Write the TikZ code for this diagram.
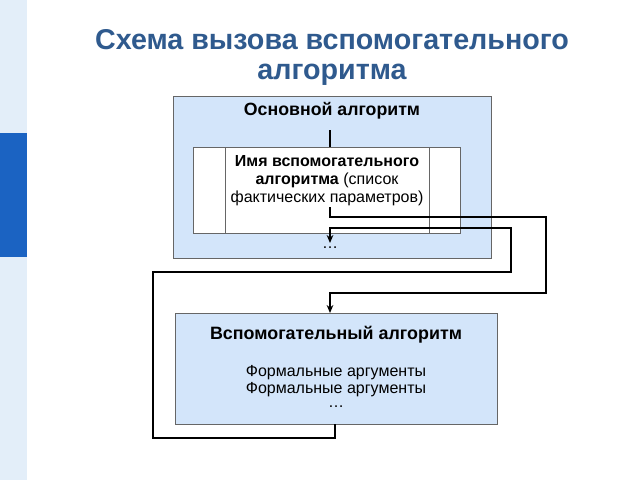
\documentclass[tikz,border=0pt]{standalone}
\usepackage{fontspec}
\setmainfont{Liberation Sans}
\usetikzlibrary{arrows.meta}
\definecolor{boxfill}{HTML}{D3E5FA}
\definecolor{titleblue}{HTML}{2F5A8E}
\definecolor{barlight}{HTML}{E3EEF9}
\definecolor{bardark}{HTML}{1B63C2}
\begin{document}
\begin{tikzpicture}[x=0.75pt,y=-0.75pt,
  box/.style={draw=gray!80!black,fill=boxfill,line width=0.6pt},
  conn/.style={line width=1.4pt},
  arr/.style={conn,-{Stealth[length=6pt,width=5pt]}},
  txt/.style={inner sep=0,font=\fontsize{12}{13.5}\selectfont,align=center}]
\useasboundingbox (0,0) rectangle (640,480);
\fill[white] (0,0) rectangle (640,480);
\fill[barlight] (0,0) rectangle (27,480);
\fill[bardark] (0,133) rectangle (27,257);
\node[inner sep=0,text=titleblue,font=\fontsize{21.5}{22.5}\selectfont\bfseries,align=center] (title) at (332,57) {Схема вызова вспомогательного\\алгоритма};
\node[box,minimum width=238.5pt,minimum height=121.5pt,anchor=north west] (main) at (173,96) {};
\node[txt,font=\fontsize{13.3}{14}\selectfont\bfseries] (mainlbl) at (332,111) {Основной алгоритм};
\node[draw=gray!80!black,fill=white,line width=0.6pt,minimum width=200pt,minimum height=64.5pt,anchor=north west] (call) at (193,147) {};
\draw[gray!80!black,line width=0.6pt] (225,147) -- (225,233) (429,147) -- (429,233);
\node[txt] (calltxt) at (327,181) {\textbf{Имя вспомогательного}\\\textbf{алгоритма} (список\\фактических параметров)};
\coordinate (t1) at (330,130);
\draw[conn] (t1) -- (330,147);
\coordinate (s1) at (330,207);
\node[box,minimum width=241.5pt,minimum height=83pt,anchor=north west] (sub) at (175,313) {};
\node[txt,font=\fontsize{13.4}{14}\selectfont\bfseries] (sublbl) at (336,335) {Вспомогательный алгоритм};
\node[txt,font=\fontsize{12}{13}\selectfont] (args) at (336,381) {Формальные аргументы\\Формальные аргументы};
\node[txt] (dots2) at (336,407) {\dots};
\node[txt] (dots1) at (330,248) {\dots};
\draw[arr] (s1) -- (330,217) -- (546,217) -- (546,293) -- (330,293) -- (sub.north -| 330,0);
\coordinate (ret) at (330,243);
\draw[arr] (335,424) -- (335,438) -- (153,438) -- (153,272) -- (511,272) -- (511,228) -- (330,228) -- (ret);
\end{tikzpicture}
\end{document}
